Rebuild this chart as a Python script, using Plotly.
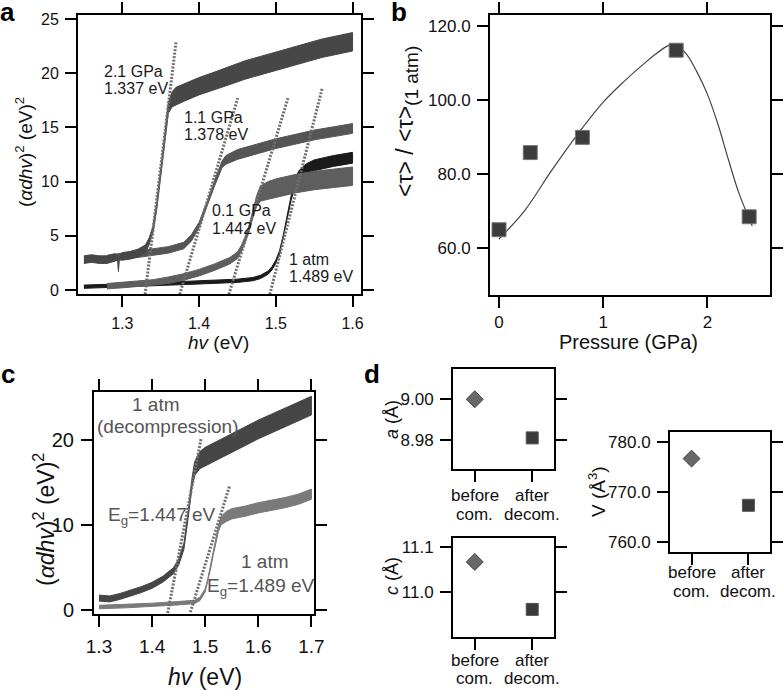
import plotly.graph_objects as go

FONT = "Liberation Sans, Arial, sans-serif"

# ---------------- panel a : (alpha d h nu)^2 vs h nu ----------------
a21_x = [1.250, 1.260, 1.270, 1.280, 1.290, 1.294, 1.295, 1.296, 1.300, 1.310, 1.320, 1.330, 1.335, 1.340,
         1.345, 1.350, 1.355, 1.360, 1.365, 1.370, 1.380, 1.400, 1.420, 1.440, 1.460, 1.480, 1.500, 1.520,
         1.540, 1.560, 1.580, 1.600]
a21_y = [2.8, 2.9, 2.8, 2.8, 3.0, 3.0, 1.8, 3.0, 3.1, 3.2, 3.4, 3.8, 4.5, 5.6, 7.8, 10.6, 13.8, 16.8, 17.6,
         17.9, 18.2, 18.8, 19.3, 19.8, 20.3, 20.7, 21.1, 21.5, 21.9, 22.3, 22.6, 22.9]
a21_h = [0.35, 0.35, 0.35, 0.35, 0.35, 0.2, 0.1, 0.2, 0.35, 0.35, 0.35, 0.35, 0.3, 0.3, 0.3, 0.3, 0.3, 0.5,
         0.7, 0.8, 0.8, 0.8, 0.8, 0.85, 0.85, 0.85, 0.85, 0.85, 0.85, 0.85, 0.85, 0.85]

a11_x = [1.280, 1.300, 1.320, 1.340, 1.360, 1.380, 1.390, 1.400, 1.410, 1.420, 1.430, 1.435, 1.450, 1.475,
         1.500, 1.525, 1.550, 1.575, 1.600]
a11_y = [2.9, 3.1, 3.3, 3.5, 3.7, 4.1, 4.8, 6.0, 7.8, 9.8, 11.6, 12.0, 12.5, 13.0, 13.5, 13.9, 14.3, 14.6, 14.9]
a11_h = [0.3, 0.3, 0.3, 0.3, 0.3, 0.3, 0.3, 0.25, 0.25, 0.25, 0.3, 0.4, 0.45, 0.45, 0.45, 0.45, 0.45, 0.45, 0.45]

a01_x = [1.280, 1.300, 1.320, 1.340, 1.360, 1.380, 1.400, 1.420, 1.440, 1.450, 1.455, 1.460, 1.465, 1.470,
         1.475, 1.480, 1.490, 1.500, 1.525, 1.550, 1.575, 1.600]
a01_y = [0.35, 0.45, 0.55, 0.7, 0.9, 1.2, 1.6, 2.1, 2.7, 3.2, 3.8, 4.6, 5.6, 7.0, 8.2, 8.9, 9.2, 9.4, 9.8,
         10.1, 10.3, 10.5]
a01_h = [0.25, 0.25, 0.25, 0.25, 0.3, 0.3, 0.3, 0.3, 0.3, 0.3, 0.3, 0.3, 0.3, 0.35, 0.5, 0.7, 0.8, 0.85,
         0.85, 0.85, 0.85, 0.85]

a1_x = [1.250, 1.300, 1.350, 1.400, 1.450, 1.470, 1.480, 1.490, 1.495, 1.500, 1.505, 1.510, 1.515, 1.520,
        1.525, 1.530, 1.540, 1.550, 1.575, 1.600]
a1_y = [0.3, 0.4, 0.55, 0.7, 0.85, 1.0, 1.2, 1.6, 2.0, 2.6, 3.5, 5.0, 6.8, 8.5, 9.8, 10.6, 11.2, 11.5, 11.9, 12.2]
a1_h = [0.15, 0.15, 0.15, 0.15, 0.15, 0.15, 0.15, 0.15, 0.15, 0.15, 0.15, 0.15, 0.15, 0.2, 0.3, 0.4, 0.45,
        0.5, 0.5, 0.5]

# tangent (Tauc) lines of panel a
a_fit21_x = [1.3297, 1.3700]; a_fit21_y = [-0.4, 22.85]
a_fit11_x = [1.3748, 1.4504]; a_fit11_y = [-0.4, 17.7]
a_fit01_x = [1.4389, 1.5158]; a_fit01_y = [-0.4, 17.7]
a_fit1_x = [1.4922, 1.5608]; a_fit1_y = [-0.4, 18.7]

a_labels = ["2.1 GPa", "1.337 eV", "1.1 GPa", "1.378 eV", "0.1 GPa", "1.442 eV", "1 atm", "1.489 eV"]
a_label_x = [1.2732, 1.2732, 1.3777, 1.3777, 1.4142, 1.4142, 1.5145, 1.5145]
a_label_y = [20.2, 18.6, 15.9, 14.3, 7.3, 5.7, 2.8, 1.2]

# ---------------- panel b : lifetime ratio vs pressure ----------------
b_p = [0.0, 0.3, 0.8, 1.7, 2.40]
b_tau = [65.0, 85.8, 89.9, 113.4, 68.5]
b_fit_x = [0.0, 0.25, 0.5, 0.75, 1.0, 1.2, 1.4, 1.5, 1.6, 1.65, 1.7, 1.8, 1.9, 2.0, 2.1, 2.2, 2.3, 2.43]
b_fit_y = [62.5, 70.3, 80.8, 90.6, 99.4, 105.0, 110.0, 112.3, 114.3, 114.9, 114.8, 112.3, 107.5, 101.5,
           93.5, 84.0, 75.0, 66.0]

# ---------------- panel c : decompression ----------------
c_dx = [1.300, 1.320, 1.340, 1.360, 1.380, 1.400, 1.420, 1.440, 1.450, 1.460, 1.465, 1.470, 1.475, 1.480,
        1.490, 1.500, 1.525, 1.550, 1.575, 1.600, 1.625, 1.650, 1.675, 1.700]
c_dy = [1.4, 1.3, 1.6, 2.0, 2.4, 2.9, 3.6, 4.6, 5.6, 7.5, 9.6, 12.2, 14.9, 16.6, 17.6, 18.0, 18.8, 19.6,
        20.4, 21.2, 21.9, 22.6, 23.3, 24.0]
c_dh = [0.35, 0.35, 0.35, 0.35, 0.35, 0.35, 0.35, 0.35, 0.35, 0.35, 0.35, 0.4, 0.5, 0.8, 1.0, 1.1, 1.1,
        1.1, 1.1, 1.1, 1.1, 1.1, 1.1, 1.1]

c_ax = [1.300, 1.350, 1.400, 1.450, 1.480, 1.490, 1.500, 1.505, 1.510, 1.515, 1.520, 1.525, 1.530, 1.540,
        1.550, 1.575, 1.600, 1.625, 1.650, 1.675, 1.700]
c_ay = [0.35, 0.45, 0.6, 0.8, 0.95, 1.3, 2.3, 3.5, 5.0, 6.6, 8.2, 9.6, 10.5, 11.0, 11.3, 11.6, 12.0, 12.3,
        12.6, 13.0, 13.6]
c_ah = [0.2, 0.2, 0.2, 0.2, 0.2, 0.2, 0.2, 0.2, 0.2, 0.2, 0.25, 0.35, 0.5, 0.6, 0.6, 0.6, 0.6, 0.6, 0.6,
        0.6, 0.6]

c_fitd_x = [1.4294, 1.4925]; c_fitd_y = [-0.35, 20.2]
c_fita_x = [1.4721, 1.5461]; c_fita_y = [-0.25, 14.6]

c_labels = ["1 atm", "(decompression)", "E<sub>g</sub>=1.447 eV", "1 atm", "E<sub>g</sub>=1.489 eV"]

# ---------------- panel d : lattice constants ----------------
d_cat_line1 = ["before", "after"]
d_cat_line2 = ["com.", "decom."]
d_pos = [0, 1]
d_a = [9.000, 8.981]
d_c = [11.067, 10.962]
d_V = [776.7, 767.4]

W, H = 784, 690


def px(v):
    return v / W


def py(v):
    return 1 - v / H


def band(x, y, h):
    xs = list(x) + list(x)[::-1]
    ys = [v + d for v, d in zip(y, h)] + [v - d for v, d in zip(y, h)][::-1]
    return xs, ys


fig = go.Figure()


def add_band(x, y, h, color, xa, ya):
    xs, ys = band(x, y, h)
    fig.add_trace(go.Scatter(x=xs, y=ys, mode="lines", fill="toself", fillcolor=color,
                             line=dict(color=color, width=1), xaxis=xa, yaxis=ya,
                             showlegend=False, hoverinfo="skip"))


def add_fit(x, y, xa, ya):
    fig.add_trace(go.Scatter(x=x, y=y, mode="lines", line=dict(color="#6e6e6e", width=3, dash="2px,1.5px"),
                             xaxis=xa, yaxis=ya, showlegend=False, hoverinfo="skip"))


# panel a traces
add_band(a1_x, a1_y, a1_h, "#1a1a1a", "x", "y")
add_band(a01_x, a01_y, a01_h, "#5e5e5e", "x", "y")
add_band(a11_x, a11_y, a11_h, "#555555", "x", "y")
add_band(a21_x, a21_y, a21_h, "#474747", "x", "y")
add_fit(a_fit21_x, a_fit21_y, "x", "y")
add_fit(a_fit11_x, a_fit11_y, "x", "y")
add_fit(a_fit01_x, a_fit01_y, "x", "y")
add_fit(a_fit1_x, a_fit1_y, "x", "y")

# panel b traces
fig.add_trace(go.Scatter(x=b_fit_x, y=b_fit_y, mode="lines", line=dict(color="#444444", width=1.2, shape="spline"),
                         xaxis="x2", yaxis="y2", showlegend=False))
fig.add_trace(go.Scatter(x=b_p, y=b_tau, mode="markers",
                         marker=dict(symbol="square", size=14, color="#3c3c3c", line=dict(color="#777777", width=1)),
                         xaxis="x2", yaxis="y2", showlegend=False))

# panel c traces
add_band(c_ax, c_ay, c_ah, "#7a7a7a", "x3", "y3")
add_band(c_dx, c_dy, c_dh, "#454545", "x3", "y3")
add_fit(c_fitd_x, c_fitd_y, "x3", "y3")
add_fit(c_fita_x, c_fita_y, "x3", "y3")

# panel d traces
for vals, xa, ya in [(d_a, "x4", "y4"), (d_c, "x5", "y5"), (d_V, "x6", "y6")]:
    fig.add_trace(go.Scatter(x=[d_pos[0]], y=[vals[0]], mode="markers",
                             marker=dict(symbol="diamond", size=13, color="#686868", line=dict(color="#444444", width=1)),
                             xaxis=xa, yaxis=ya, showlegend=False))
    fig.add_trace(go.Scatter(x=[d_pos[1]], y=[vals[1]], mode="markers",
                             marker=dict(symbol="square", size=12, color="#3a3a3a", line=dict(color="#555555", width=1)),
                             xaxis=xa, yaxis=ya, showlegend=False))


def axis(domain, rng, anchor, fs, dtick=None, fmt=None, tickvals=None, mirror="allticks", standoff=3,
         labels=True):
    d = dict(domain=domain, range=rng, anchor=anchor, showline=True, linecolor="black", linewidth=2,
             mirror=mirror, ticks="outside", ticklen=11, tickwidth=2, tickcolor="black", automargin=False,
             ticklabelstandoff=standoff, showticklabels=labels,
             showgrid=False, zeroline=False, tickfont=dict(family=FONT, size=fs, color="#111111"))
    if dtick is not None:
        d["dtick"] = dtick
        d["tick0"] = 0
    if fmt is not None:
        d["tickformat"] = fmt
    if tickvals is not None:
        d["tickvals"] = tickvals
    return d


layout = dict(
    width=W, height=H, margin=dict(l=0, r=0, t=0, b=0), plot_bgcolor="white", paper_bgcolor="white",
    showlegend=False, font=dict(family=FONT, color="#111111"),
    xaxis=axis([px(78), px(361)], [1.2423, 1.611], "y", 16, dtick=0.1, fmt=".1f"),
    yaxis=axis([py(294), py(15)], [-0.37, 25.37], "x", 16, dtick=5),
    xaxis2=axis([px(490), px(770)], [-0.0865, 2.60], "y2", 17, dtick=1, standoff=0),
    yaxis2=axis([py(295), py(15)], [47.4, 122.9], "x2", 17, dtick=20, fmt=".1f"),
    xaxis3=axis([px(94), px(314)], [1.2906, 1.7049], "y3", 19, dtick=0.1, fmt=".1f"),
    yaxis3=axis([py(614), py(392)], [-0.47, 25.6], "x3", 20, dtick=10),
    xaxis4=axis([px(453), px(554)], [-0.379, 1.379], "y4", 17, tickvals=d_pos, mirror=True, labels=False),
    yaxis4=axis([py(469), py(369)], [8.9657, 9.0149], "x4", 17, dtick=0.02, fmt=".2f"),
    xaxis5=axis([px(453), px(554)], [-0.379, 1.379], "y5", 17, tickvals=d_pos, mirror=True, labels=False),
    yaxis5=axis([py(637), py(538)], [10.901, 11.12], "x5", 17, dtick=0.1, fmt=".1f"),
    xaxis6=axis([px(670), px(770)], [-0.379, 1.379], "y6", 17, tickvals=d_pos, mirror=True, labels=False),
    yaxis6=axis([py(552), py(432)], [758.1, 782.0], "x6", 17, dtick=10, fmt=".1f"),
)
fig.update_layout(**layout)

ann = []
# panel a curve labels
for t, x, y in zip(a_labels, a_label_x, a_label_y):
    ann.append(dict(text=t, x=x, y=y, xref="x", yref="y", xanchor="left", yanchor="middle",
                    showarrow=False, font=dict(family=FONT, size=16, color="#1a1a1a")))
# panel c labels
c_lab_x = [1.408, 1.4307, 1.3126, 1.612, 1.4995]
c_lab_y = [24.1, 21.6, 11.0, 5.7, 2.7]
c_lab_anchor = ["center", "center", "left", "center", "left"]
for t, x, y, xa in zip(c_labels, c_lab_x, c_lab_y, c_lab_anchor):
    ann.append(dict(text=t, x=x, y=y, xref="x3", yref="y3", xanchor=xa, yanchor="middle",
                    showarrow=False, font=dict(family=FONT, size=19, color="#555555")))

# panel d category labels (two lines each)
for xa, y1, y2 in [("x4", 495, 514), ("x5", 660, 678), ("x6", 572, 591)]:
    for p, t1, t2 in zip(d_pos, d_cat_line1, d_cat_line2):
        ann.append(dict(text=t1, x=p, y=py(y1), xref=xa, yref="paper", xanchor="center", yanchor="middle",
                        showarrow=False, font=dict(family=FONT, size=17, color="#111111")))
        ann.append(dict(text=t2, x=p, y=py(y2), xref=xa, yref="paper", xanchor="center", yanchor="middle",
                        showarrow=False, font=dict(family=FONT, size=17, color="#111111")))


def title(text, x, y, size, angle=0):
    ann.append(dict(text=text, x=px(x), y=py(y), xref="paper", yref="paper", xanchor="center",
                    yanchor="middle", showarrow=False, textangle=angle,
                    font=dict(family=FONT, size=size, color="#111111")))


title("(<i>αdhv</i>)<sup>2</sup> (eV)<sup>2</sup>", 24, 152, 19, -90)
title("<i>hv</i> (eV)", 218, 343, 19)
title("&lt;τ&gt; / &lt;τ&gt;<sub><span style='font-size:19px'>(1 atm)</span></sub>", 407, 122, 23, -90)
title("Pressure (GPa)", 628, 342, 20)
title("(<i>αdhv</i>)<sup>2</sup> (eV)<sup>2</sup>", 44, 520, 23, -90)
title("<i>hv</i> (eV)", 205, 677, 23)
title("<i>a</i> (Å)", 392, 420, 18, -90)
title("<i>c</i> (Å)", 392, 576, 18, -90)
title("V (Å<sup>3</sup>)", 597, 492, 19, -90)

for t, x, y in [("a", 8, 12), ("b", 399, 12), ("c", 8, 374), ("d", 372, 374)]:
    ann.append(dict(text="<b>%s</b>" % t, x=px(x), y=py(y), xref="paper", yref="paper",
                    xanchor="center", yanchor="middle", showarrow=False,
                    font=dict(family=FONT, size=26, color="black")))

fig.update_layout(annotations=ann)
fig.write_html("out.html", config={"displayModeBar": False},
               post_script="document.body.style.margin='0px';document.body.style.padding='0px';")
